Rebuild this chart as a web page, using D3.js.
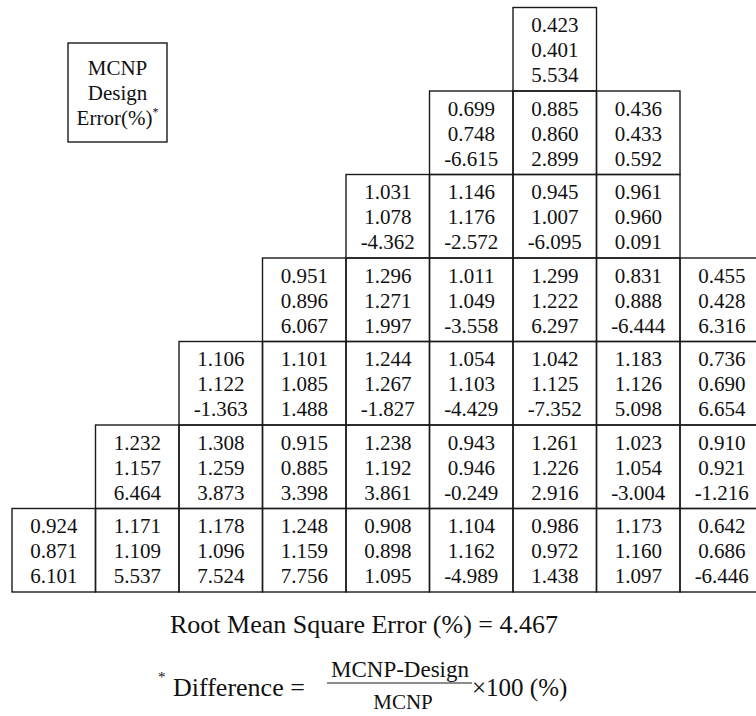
<!DOCTYPE html>
<html lang="en">
<head>
    <meta charset="UTF-8">
    <title>MCNP vs Design</title>
    <style>
        body {
            margin: 0;
            background: #fff;
        }

        svg text {
            font-family: "Liberation Serif", "Times New Roman", serif;
            fill: #111;
        }
    </style>
</head>
<body>
<script src="https://cdnjs.cloudflare.com/ajax/libs/d3/7.8.5/d3.min.js"></script>
<script>
    const width = 756;
    const height = 716;

    // first column of each row (top row first)
    const rowStart = [6, 5, 4, 3, 2, 1, 0];

    const mcnp = [
        [0.423],
        [0.699, 0.885, 0.436],
        [1.031, 1.146, 0.945, 0.961],
        [0.951, 1.296, 1.011, 1.299, 0.831, 0.455],
        [1.106, 1.101, 1.244, 1.054, 1.042, 1.183, 0.736],
        [1.232, 1.308, 0.915, 1.238, 0.943, 1.261, 1.023, 0.910],
        [0.924, 1.171, 1.178, 1.248, 0.908, 1.104, 0.986, 1.173, 0.642]
    ];

    const design = [
        [0.401],
        [0.748, 0.860, 0.433],
        [1.078, 1.176, 1.007, 0.960],
        [0.896, 1.271, 1.049, 1.222, 0.888, 0.428],
        [1.122, 1.085, 1.267, 1.103, 1.125, 1.126, 0.690],
        [1.157, 1.259, 0.885, 1.192, 0.946, 1.226, 1.054, 0.921],
        [0.871, 1.109, 1.096, 1.159, 0.898, 1.162, 0.972, 1.160, 0.686]
    ];

    const errorPct = [
        [5.534],
        [-6.615, 2.899, 0.592],
        [-4.362, -2.572, -6.095, 0.091],
        [6.067, 1.997, -3.558, 6.297, -6.444, 6.316],
        [-1.363, 1.488, -1.827, -4.429, -7.352, 5.098, 6.654],
        [6.464, 3.873, 3.398, 3.861, -0.249, 2.916, -3.004, -1.216],
        [6.101, 5.537, 7.524, 7.756, 1.095, -4.989, 1.438, 1.097, -6.446]
    ];

    const legendLines = ['MCNP', 'Design', 'Error(%)'];
    const rmsValue = 4.467;

    const NCOLS = 9;
    const NROWS = 7;
    const CELL = 83.5;
    const FS = 21;

    const SCALE = {
        x: d3.scaleLinear().domain([0, NCOLS]).range([12, 12 + NCOLS * CELL]),
        y: d3.scaleLinear().domain([0, NROWS]).range([7.5, 7.5 + NROWS * CELL])
    };

    // plain hyphen for negatives, like the original table
    const fmt = v => v.toFixed(3);

    const cells = [];
    mcnp.forEach((row, r) => {
        row.forEach((v, i) => {
            cells.push({
                row: r,
                col: rowStart[r] + i,
                values: [v, design[r][i], errorPct[r][i]]
            });
        });
    });

    const svg = d3.select('body')
        .append('svg')
        .attr('width', width)
        .attr('height', height);

    const grid = svg.append('g').classed('grid', true);

    const cellG = grid.selectAll('.cell')
        .data(cells)
        .enter()
        .append('g')
        .classed('cell', true)
        .attr('transform', d => `translate(${SCALE.x(d.col)}, ${SCALE.y(d.row)})`);

    cellG.append('rect')
        .attr('width', CELL)
        .attr('height', CELL)
        .attr('fill', 'none')
        .attr('stroke', '#1a1a1a')
        .attr('stroke-width', 1.4);

    cellG.selectAll('text')
        .data(d => d.values)
        .enter()
        .append('text')
        .attr('x', CELL / 2)
        .attr('y', (d, i) => 17.5 + i * 25 + 0.34 * FS)
        .attr('text-anchor', 'middle')
        .attr('font-size', FS)
        .text(d => fmt(d));

    // legend box
    const legend = svg.append('g').classed('legend', true)
        .attr('transform', 'translate(68, 43)');
    legend.append('rect')
        .attr('width', 99)
        .attr('height', 99)
        .attr('fill', 'none')
        .attr('stroke', '#1a1a1a')
        .attr('stroke-width', 1.4);
    const legendText = legend.selectAll('text')
        .data(legendLines)
        .enter()
        .append('text')
        .attr('x', 49.5)
        .attr('y', (d, i) => 25 + i * 25 + 0.34 * FS)
        .attr('text-anchor', 'middle')
        .attr('font-size', FS)
        .text(d => d);
    legendText.filter((d, i) => i === 2)
        .append('tspan')
        .attr('font-size', 12)
        .attr('dy', -9)
        .text('*');

    // footer
    svg.append('text')
        .attr('x', 364)
        .attr('y', 633)
        .attr('text-anchor', 'middle')
        .attr('font-size', 26)
        .text(`Root Mean Square Error (%) = ${fmt(rmsValue)}`);

    const formula = svg.append('g').classed('formula', true);
    formula.append('text')
        .attr('x', 158)
        .attr('y', 682)
        .attr('font-size', 15)
        .text('*');
    formula.append('text')
        .attr('x', 173)
        .attr('y', 696)
        .attr('font-size', 26)
        .text('Difference =');
    formula.append('text')
        .attr('x', 400)
        .attr('y', 677)
        .attr('text-anchor', 'middle')
        .attr('font-size', 23)
        .text('MCNP-Design');
    formula.append('line')
        .attr('x1', 327)
        .attr('x2', 472)
        .attr('y1', 683)
        .attr('y2', 683)
        .attr('stroke', '#1a1a1a')
        .attr('stroke-width', 1.2);
    formula.append('text')
        .attr('x', 403)
        .attr('y', 709)
        .attr('text-anchor', 'middle')
        .attr('font-size', 21)
        .text('MCNP');
    formula.append('text')
        .attr('x', 472)
        .attr('y', 696)
        .attr('font-size', 25)
        .text('\u00d7100 (%)');
</script>
</body>
</html>
